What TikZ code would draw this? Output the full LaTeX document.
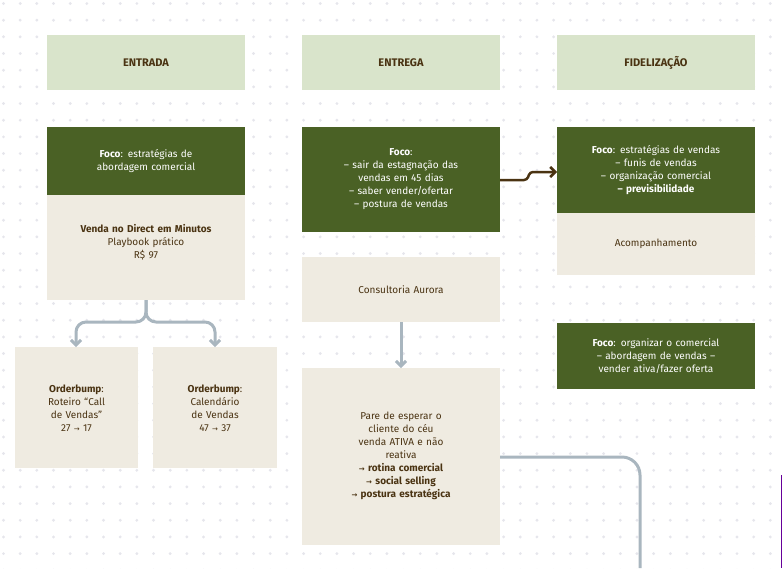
\documentclass[tikz,border=0pt]{standalone}
\usepackage{fontspec}
\setmainfont{Fira Sans}
\newfontfamily\symf{DejaVu Sans}
\usetikzlibrary{arrows.meta}
\definecolor{dgreen}{HTML}{4A6125}
\definecolor{lgreen}{HTML}{D9E4CB}
\definecolor{beige}{HTML}{EFEBE1}
\definecolor{brown}{HTML}{4A3312}
\definecolor{lgrey}{HTML}{A9B6BF}
\definecolor{dotc}{HTML}{E6E6EC}
\newcommand{\arr}{{\symf\scriptsize →}}
\tikzset{
 box/.style={inner sep=0pt,align=center,font=\fontsize{10}{13}\selectfont,text width=180pt},
 hdr/.style={fill=lgreen,text=brown,font=\fontsize{11}{13}\selectfont\bfseries},
 grn/.style={fill=dgreen,text=white},
 bei/.style={fill=beige,text=brown},
 con/.style={draw=lgrey,line width=3pt,rounded corners=14pt},
}
\begin{document}
\begin{tikzpicture}[x=1pt,y=-1pt]
\useasboundingbox (0,0) rectangle (782,568);
\foreach \i in {0,...,47}{\foreach \j in {0,...,34}{\fill[dotc] (3.5+16.67*\i,3.5+16.67*\j) circle (1.6pt);}}
% headers
\fill[lgreen] (47,35) rectangle (245,90); \node[hdr] (h1) at (146,62.5) {ENTRADA};
\fill[lgreen] (302,35) rectangle (500,90); \node[hdr] (h2) at (401,62.5) {ENTREGA};
\fill[lgreen] (557,35) rectangle (755,90); \node[hdr] (h3) at (656,62.5) {FIDELIZAÇÃO};
% entrada
\fill[dgreen] (47,127) rectangle (245,195);
\node[box,text=white] (ef) at (146,161) {\textbf{Foco}: estratégias de\\abordagem comercial};
\fill[beige] (47,195) rectangle (245,300);
\node[box,text=brown,text width=150pt] (ev) at (146,242) {\textbf{Venda no Direct em Minutos}\\Playbook prático\\R\$ 97};
\coordinate (eb) at (146,300);
\fill[beige] (15,347) rectangle (138,468);
\node[box,text=brown] (o1) at (76.5,408) {\textbf{Orderbump}:\\Roteiro “Call\\de Vendas”\\27 \arr{} 17};
\fill[beige] (153,347) rectangle (277,468);
\node[box,text=brown] (o2) at (215,408) {\textbf{Orderbump}:\\Calendário\\de Vendas\\47 \arr{} 37};
\coordinate (o1t) at (76,347); \coordinate (o2t) at (215,347);
\draw[con,rounded corners=10pt,-{Straight Barb[length=5pt,width=10pt]}] (eb) -- (146,322) -- (76,322) -- (o1t);
\draw[con,rounded corners=10pt,-{Straight Barb[length=5pt,width=10pt]}] (eb) -- (146,322) -- (215,322) -- (o2t);
% entrega
\fill[dgreen] (302,127) rectangle (500,232);
\node[box,text=white] (nf) at (401,179) {\textbf{Foco}:\\– sair da estagnação das\\vendas em 45 dias\\– saber vender/ofertar\\– postura de vendas};
\fill[beige] (302,257) rectangle (500,322);
\node[box,text=brown] (nc) at (401,289.5) {Consultoria Aurora};
\fill[beige] (302,368) rectangle (500,545);
\node[box,text=brown] (nb) at (401,456) {Pare de esperar o\\cliente do céu\\venda ATIVA e não\\reativa\\\textbf{\arr{} rotina comercial}\\\textbf{\arr{} social selling}\\\textbf{\arr{} postura estratégica}};
\draw[con,-{Straight Barb[length=5pt,width=10pt]}] (401,322) -- (401,368);
\coordinate (nr) at (500,457); \coordinate (dn) at (640,568);
\draw[con,rounded corners=18pt] (nr) -- (640,457) -- (dn);
% fidelizacao
\fill[dgreen] (557,127) rectangle (755,213);
\node[box,text=white] (ff) at (656,170) {\textbf{Foco}: estratégias de vendas\\– funis de vendas\\– organização comercial\\\textbf{– previsibilidade}};
\fill[beige] (557,213) rectangle (755,275);
\node[box,text=brown] (fa) at (656,244) {Acompanhamento};
\fill[dgreen] (557,323) rectangle (755,389);
\node[box,text=white] (fo) at (656,356) {\textbf{Foco}: organizar o comercial\\– abordagem de vendas –\\vender ativa/fazer oferta};
\draw[brown,line width=2.5pt,rounded corners=3pt,-{Straight Barb[length=5pt,width=10pt]}] (500,180) -- (527,180) -- (530,172) -- (557,172);
\draw[violet!80!blue,line width=1pt] (781,475) -- (781,568);
\end{tikzpicture}
\end{document}
